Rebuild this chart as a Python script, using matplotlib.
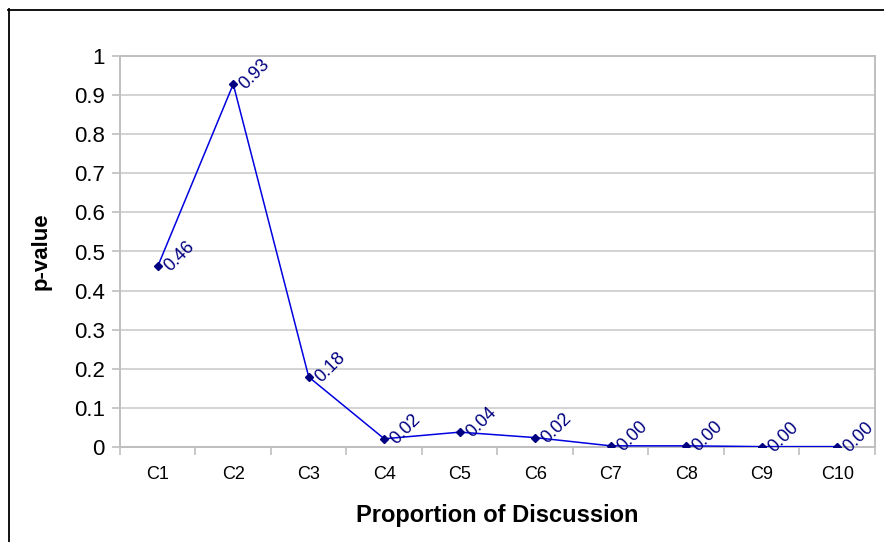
import matplotlib
matplotlib.use("Agg")
import matplotlib.pyplot as plt
from matplotlib.lines import Line2D

plt.rcParams['font.family'] = ['Liberation Sans', 'DejaVu Sans']

categories = ["C1", "C2", "C3", "C4", "C5", "C6", "C7", "C8", "C9", "C10"]
p_values = [0.462, 0.928, 0.179, 0.021, 0.038, 0.024, 0.003, 0.003, 0.001, 0.001]
y_ticks = [0, 0.1, 0.2, 0.3, 0.4, 0.5, 0.6, 0.7, 0.8, 0.9, 1]
y_tick_labels = ["0", "0.1", "0.2", "0.3", "0.4", "0.5", "0.6", "0.7", "0.8", "0.9", "1"]

W, H = 884, 542
fig = plt.figure(figsize=(W / 100, H / 100), dpi=100)
ax = fig.add_axes([120 / W, (H - 447) / H, (875 - 120) / W, (447 - 56) / H])

x = list(range(len(categories)))
ax.plot(x, p_values, color="#0000E0", lw=1.1, zorder=3)
ax.plot(x, p_values, ls="none", marker="D", ms=4.5, color="#000080", zorder=4)

for xi, v in zip(x, p_values):
    ax.annotate(f"{v:.2f}", (xi, v), xytext=(6.5, -2), textcoords="offset points",
                rotation=45, rotation_mode="anchor", ha="left", va="center",
                fontsize=13, color="#000080", zorder=5)

ax.set_xlim(-0.5, len(categories) - 0.5)
ax.set_ylim(0, 1)
ax.set_yticks(y_ticks)
ax.set_yticklabels(y_tick_labels, fontsize=16)
ax.set_xticks(x)
ax.set_xticklabels(categories, fontsize=13)
ax.set_xticks([i - 0.5 for i in range(len(categories) + 1)], minor=True)
ax.tick_params(axis="x", which="major", length=0, pad=14)
ax.tick_params(axis="x", which="minor", length=6, color="#BFBFBF", width=1.2)
ax.tick_params(axis="y", which="major", length=6, color="#BFBFBF", width=1.2, pad=5)

ax.yaxis.grid(True, color="#C8C8C8", lw=1.1, zorder=0)
for s in ax.spines.values():
    s.set_color("#BFBFBF")
    s.set_linewidth(1.4)

ax.set_ylabel("p-value", fontsize=16, fontweight="bold", labelpad=16)
ax.set_xlabel("Proportion of Discussion", fontsize=17, fontweight="bold", labelpad=15)

# outer chart frame (only top and left edges visible)
fig.add_artist(Line2D([8.5 / W, 8.5 / W], [0, 1 - 9 / H], transform=fig.transFigure, color="black", lw=1.3))
fig.add_artist(Line2D([8 / W, 1], [1 - 9.5 / H, 1 - 9.5 / H], transform=fig.transFigure, color="black", lw=1.3))

fig.savefig("out.png", dpi=100, facecolor="white")
